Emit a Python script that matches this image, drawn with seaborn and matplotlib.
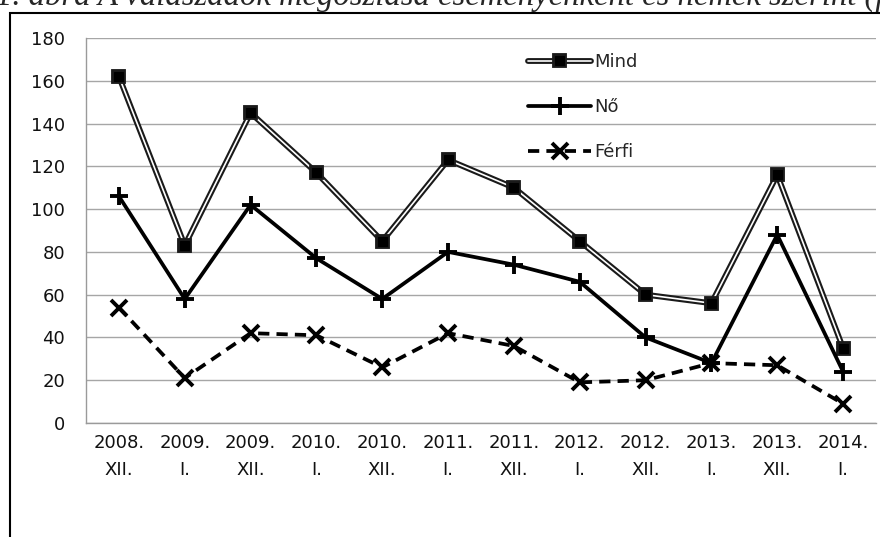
import numpy as np
import pandas as pd
import matplotlib
matplotlib.use("Agg")
import matplotlib.pyplot as plt
import matplotlib.patheffects as pe
from matplotlib.patches import Rectangle
import seaborn as sns

# adatok (leolvasva az abrarol)
kategoriak = ["2008.\nXII.", "2009.\nI.", "2009.\nXII.", "2010.\nI.", "2010.\nXII.", "2011.\nI.",
              "2011.\nXII.", "2012.\nI.", "2012.\nXII.", "2013.\nI.", "2013.\nXII.", "2014.\nI."]
mind = [162, 83, 145, 117, 85, 123, 110, 85, 60, 56, 116, 35]
no = [106, 58, 102, 77, 58, 80, 74, 66, 40, 28, 88, 24]
ferfi = [54, 21, 42, 41, 26, 42, 36, 19, 20, 28, 27, 9]
y_tickek = [0, 20, 40, 60, 80, 100, 120, 140, 160, 180]
cim = "1. ábra A válaszadók megoszlása eseményenként és nemek szerint (fő)"

df = pd.DataFrame({"idoszak": kategoriak, "Mind": mind, "Nő": no, "Férfi": ferfi})

sns.set_style("white")
plt.rcParams["font.family"] = ["DejaVu Sans"]
betu = 13

fig = plt.figure(figsize=(8.8, 5.37), dpi=100)
ax = fig.add_axes([86/880, 1-423/537, 790/880, 385/537])

# Mind: dupla vonal
sns.lineplot(data=df, x="idoszak", y="Mind", ax=ax, sort=False, color="white", lw=1.2,
             marker="s", markersize=6.5, markerfacecolor="black", markeredgecolor="black",
             path_effects=[pe.Stroke(linewidth=4.2, foreground="#1a1a1a"), pe.Normal()],
             label="Mind")
sns.lineplot(data=df, x="idoszak", y="Nő", ax=ax, sort=False, color="black", lw=2.7,
             marker="+", markersize=13, markeredgewidth=2.8, markeredgecolor="black",
             label="Nő")
sns.lineplot(data=df, x="idoszak", y="Férfi", ax=ax, sort=False, color="black", lw=2.7,
             marker="x", markersize=11, markeredgewidth=2.8, markeredgecolor="black",
             dashes=(3, 1.9), label="Férfi")

ax.set_xlim(-0.5, 11.5)
ax.set_ylim(0, 180)
ax.set_yticks(y_tickek)
ax.set_xlabel("")
ax.set_ylabel("")
ax.yaxis.grid(True, color="#a6a6a6", lw=1)
ax.set_axisbelow(True)
for s in ["top", "right"]:
    ax.spines[s].set_visible(False)
for s in ["left", "bottom"]:
    ax.spines[s].set_color("#9a9a9a")
    ax.spines[s].set_linewidth(1)

ax.tick_params(axis="y", length=6, width=1, color="#9a9a9a", pad=9, labelsize=betu, labelcolor="#111111")
ax.set_xticks(np.arange(-0.5, 12, 1), minor=True)
ax.tick_params(axis="x", which="major", length=0, pad=8, labelsize=betu, labelcolor="#111111")
ax.tick_params(axis="x", which="minor", length=5, width=1, color="#9a9a9a", direction="out")
for t in ax.get_xticklabels():
    t.set_linespacing(1.6)

handles, labels = ax.get_legend_handles_labels()
ax.legend(handles, labels, loc="upper left", frameon=False, fontsize=betu,
          bbox_to_anchor=((528-86)/790, (423-53)/385), borderaxespad=0, borderpad=0,
          handlelength=3.5, handletextpad=0.15, labelspacing=1.5)

# kulso keret es levagott cim
fig.add_artist(Rectangle((10/880, -0.1), 1.2, 1.1-12.5/537, transform=fig.transFigure,
                         fill=False, ec="black", lw=1.5, clip_on=False))
fig.text(-0.004, 1-5/537, cim, family="Liberation Serif", style="italic", fontsize=23.5,
         ha="left", va="baseline")

fig.savefig("out.png", dpi=100)
